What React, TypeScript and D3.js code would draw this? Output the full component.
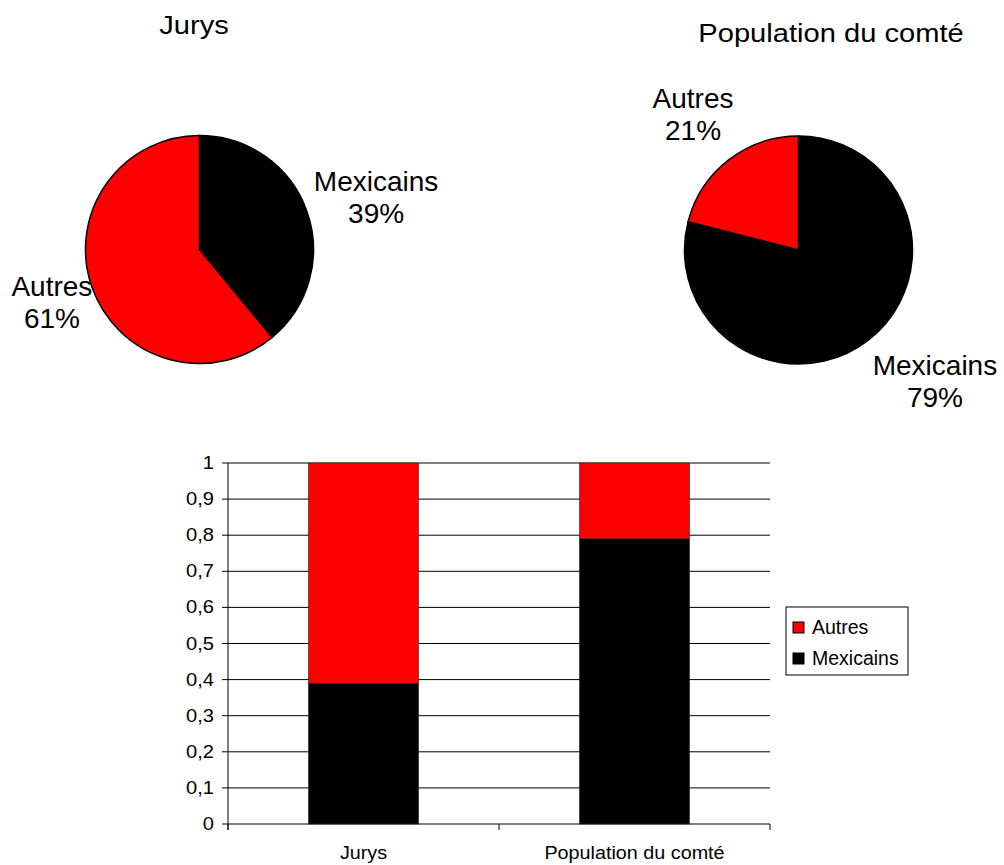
import * as d3 from 'd3';
import React, { useEffect, useRef } from 'react';

// groups shown in each pie / bar
const groups = ['Mexicains', 'Autres'];
const groupColors = ['#000000', '#ff0000'];

// shares per chart (Mexicains, Autres)
const categories = ['Jurys', 'Population du comté'];
const mexicains = [0.39, 0.79];
const autres = [0.61, 0.21];

const yTicks = ['0', '0,1', '0,2', '0,3', '0,4', '0,5', '0,6', '0,7', '0,8', '0,9', '1'];

const FONT = '"Liberation Sans", Arial, sans-serif';

function App() {
    const ref = useRef<SVGSVGElement>(null);

    useEffect(() => {
        const svg = d3.select(ref.current);
        svg.selectAll('*').remove();

        // ---------- pies ----------
        const pies = [
            { title: categories[0], cx: 199.5, cy: 249.5, titleX: 194, titleY: 34,
              nudge: [[27, 1], [2, -1]] },
            { title: categories[1], cx: 798.5, cy: 250, titleX: 831, titleY: 42,
              nudge: [[39, 5], [-8, -10]] },
        ];
        const r = 114;
        const arc = d3.arc<d3.PieArcDatum<number>>().innerRadius(0).outerRadius(r);
        const labelArc = d3.arc<d3.PieArcDatum<number>>().innerRadius(r + 45).outerRadius(r + 45);
        const pie = d3.pie<number>().sort(null).value(d => d);

        pies.forEach((p, i) => {
            const values = [mexicains[i], autres[i]];
            const g = svg.append('g').attr('transform', `translate(${p.cx},${p.cy})`);
            const arcs = pie(values);

            g.selectAll('path')
                .data(arcs)
                .enter().append('path')
                .attr('d', arc)
                .attr('fill', (d, j) => groupColors[j])
                .attr('stroke', '#000')
                .attr('stroke-width', 1.5);

            arcs.forEach((a, j) => {
                const [lx, ly] = labelArc.centroid(a);
                const x = lx + p.nudge[j][0];
                const y = ly + p.nudge[j][1];
                const t = g.append('text')
                    .attr('text-anchor', 'middle')
                    .attr('font-family', FONT)
                    .attr('font-size', 28)
                    .attr('fill', '#000');
                t.append('tspan').attr('x', x).attr('y', y - 6).text(groups[j]);
                t.append('tspan').attr('x', x).attr('y', y + 26)
                    .text(`${Math.round(values[j] * 100)}%`);
            });

            svg.append('text')
                .attr('transform', `translate(${p.titleX},${p.titleY}) scale(1.12,1)`)
                .attr('text-anchor', 'middle')
                .attr('font-family', FONT)
                .attr('font-size', 26)
                .text(p.title);
        });

        // ---------- stacked bars ----------
        const left = 228, right = 770, top = 463, bottom = 824;

        const x = d3.scaleBand()
            .domain(categories)
            .range([left, right])
            .paddingInner(0.594)
            .paddingOuter(0.297);

        const y = d3.scaleLinear().domain([0, 1]).range([bottom, top]);

        const gb = svg.append('g');

        // gridlines + left ticks
        yTicks.forEach((lab, i) => {
            const v = i / 10;
            gb.append('line')
                .attr('x1', left - 6).attr('x2', right)
                .attr('y1', y(v)).attr('y2', y(v))
                .attr('stroke', '#000').attr('stroke-width', 1);
            gb.append('text')
                .attr('transform', `translate(${left - 14},${y(v) + 6}) scale(1.15,1)`)
                .attr('text-anchor', 'end')
                .attr('font-family', FONT)
                .attr('font-size', 17.5)
                .text(lab);
        });

        // axes lines
        gb.append('line')
            .attr('x1', left).attr('x2', left)
            .attr('y1', top).attr('y2', bottom + 6)
            .attr('stroke', '#000');
        [left, left + x.step(), right].forEach(t => {
            gb.append('line')
                .attr('x1', t).attr('x2', t)
                .attr('y1', bottom).attr('y2', bottom + 6)
                .attr('stroke', '#000');
        });

        const stackData = categories.map((c, i) => ({ cat: c, Mexicains: mexicains[i], Autres: autres[i] }));
        const series = d3.stack<any>().keys(groups)(stackData);

        series.forEach((s, j) => {
            gb.selectAll(`.bar${j}`)
                .data(s)
                .enter().append('rect')
                .attr('x', d => x(d.data.cat)!)
                .attr('width', x.bandwidth())
                .attr('y', d => y(d[1]))
                .attr('height', d => y(d[0]) - y(d[1]))
                .attr('fill', groupColors[j])
                .attr('stroke', '#222')
                .attr('stroke-width', 0.6);
        });

        categories.forEach(c => {
            gb.append('text')
                .attr('transform', `translate(${x(c)! + x.bandwidth() / 2},${bottom + 35}) scale(1.13,1)`)
                .attr('text-anchor', 'middle')
                .attr('font-family', FONT)
                .attr('font-size', 17.5)
                .text(c);
        });

        // legend
        const lg = svg.append('g').attr('transform', 'translate(786,607)');
        lg.append('rect')
            .attr('width', 122).attr('height', 68)
            .attr('fill', '#fff').attr('stroke', '#000').attr('stroke-width', 1);
        ['Autres', 'Mexicains'].forEach((name, i) => {
            const j = groups.indexOf(name);
            lg.append('rect')
                .attr('x', 7).attr('y', 15 + i * 31)
                .attr('width', 11).attr('height', 11)
                .attr('fill', groupColors[j]).attr('stroke', '#000');
            lg.append('text')
                .attr('x', 26).attr('y', 27 + i * 31)
                .attr('font-family', FONT)
                .attr('font-size', 19.5)
                .text(name);
        });
    }, []);

    return (
        <svg ref={ref} width={1004} height={865}
            style={{ position: 'absolute', left: 0, top: 0, background: '#fff' }} />
    );
}

export default App;
